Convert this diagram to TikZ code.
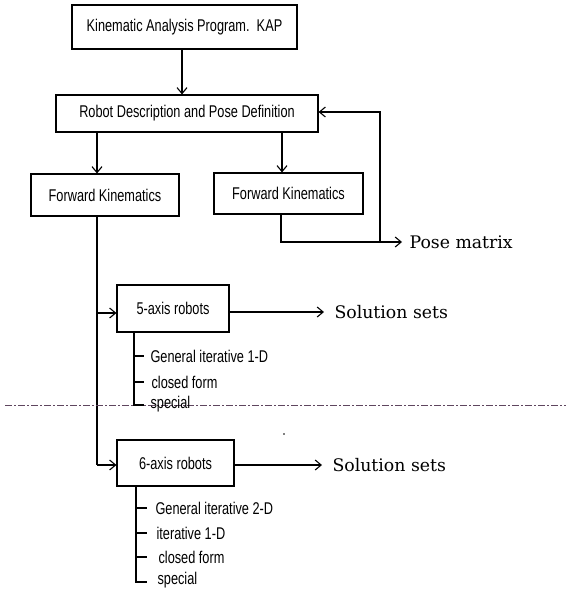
\documentclass[tikz,border=0pt]{standalone}
\usepackage{fontspec}
\newfontfamily\boxfont[FakeStretch=0.75]{Liberation Sans}
\newfontfamily\serifbig{DejaVu Serif}
\usetikzlibrary{arrows.meta}
\begin{document}
\begin{tikzpicture}[x=1pt,y=-1pt,line width=1.1pt,
  >={Straight Barb[length=6pt,width=10pt,line width=1.1pt]},
  box/.style={draw,rectangle,inner sep=0pt,font=\boxfont\fontsize{17}{20}\selectfont},
  item/.style={anchor=west,inner sep=0pt,font=\boxfont\fontsize{17}{20}\selectfont},
  outtext/.style={anchor=west,inner sep=0pt,font=\serifbig\fontsize{17.3}{20}\selectfont},
  sep/.style={line width=1pt,draw={rgb,255:red,95;green,70;blue,95},dash pattern=on 7pt off 2pt on 2pt off 2pt}]
\useasboundingbox (0,0) rectangle (566,589);
% boxes
\node[box,minimum width=225pt,minimum height=44pt] (kap) at (184.5,27) {Kinematic Analysis Program.\ \ KAP};
\node[box,minimum width=262pt,minimum height=37pt] (rd) at (187,113.5) {Robot Description and Pose Definition};
\node[box,minimum width=148pt,minimum height=42pt] (fkl) at (105,195) {Forward Kinematics};
\node[box,minimum width=149pt,minimum height=41pt] (fkr) at (288.5,193.5) {Forward Kinematics};
\node[box,minimum width=112pt,minimum height=47pt] (a5) at (173,308.5) {5-axis robots};
\node[box,minimum width=117pt,minimum height=46pt] (a6) at (175.5,463) {6-axis robots};
% outputs
\node[outtext] (pose) at (409,242) {Pose matrix};
\node[outtext] (sol5) at (334,312) {Solution sets};
\node[outtext] (sol6) at (332,465) {Solution sets};
% coordinates
\coordinate (kapd) at ([xshift=-2.5pt]kap.south);
\coordinate (rdl) at (97,132);
\coordinate (rdr) at (282,132);
\coordinate (fkld) at (97,216);
\coordinate (j5) at (97,313);
\coordinate (j6) at (97,465);
\coordinate (fkrd) at (281,214);
\coordinate (pc) at (281,242);
\coordinate (fb) at (380,242);
\coordinate (fbt) at (380,112);
% connectors
\draw[->] (kapd) -- (kapd |- rd.north);
\draw[->] (rdl) -- (rdl |- fkl.north);
\draw[->] (rdr) -- (rdr |- fkr.north);
\draw (fkld) -- (j6);
\draw[->] (j5) -- (j5 -| a5.west);
\draw[->] (j6) -- (j6 -| a6.west);
\draw[->] (a5.east |- sol5.west) -- ([xshift=-10pt]sol5.west);
\draw[->] (a6.east |- sol6.west) -- ([xshift=-10pt]sol6.west);
\draw[->] (fkrd) -- (pc) -- ([xshift=-7pt]pose.west);
\draw[->] (fb) -- (fbt) -- (fbt -| rd.east);
% separator
\draw[sep] (5,405) -- (566,405);
% 5-axis list
\coordinate (v5t) at (134,332);
\coordinate (v5b) at (134,405);
\node[item] (g5) at (150,356) {General iterative 1-D};
\node[item] (c5) at (151,382) {closed form};
\node[item] (s5) at (150,404) {special};
\draw (v5t) -- (v5b) -- (144,405);
\draw (134,356) -- (144,356);
\draw (134,382) -- (144,382);
% 6-axis list
\coordinate (v6t) at (136,486);
\coordinate (v6b) at (136,582);
\node[item] (g6) at (155,508) {General iterative 2-D};
\node[item] (i6) at (156,533) {iterative 1-D};
\node[item] (c6) at (158,557) {closed form};
\node[item] (s6) at (157,580) {special};
\draw (v6t) -- (v6b) -- (147,582);
\draw (136,508) -- (147,508);
\draw (136,533) -- (147,533);
\draw (136,557) -- (147,557);
% stray dot
\fill (284,434) circle (0.8pt);
\end{tikzpicture}
\end{document}
